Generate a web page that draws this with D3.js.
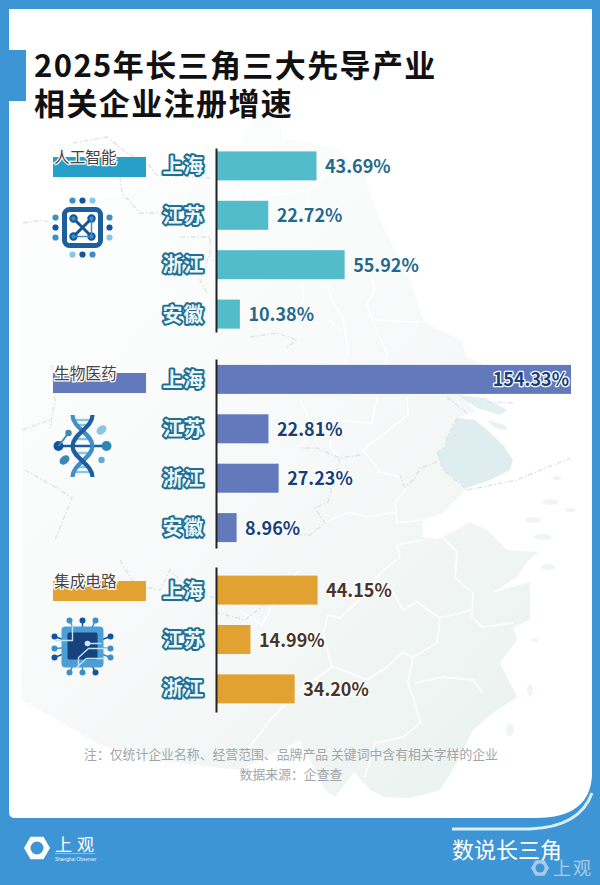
<!DOCTYPE html>
<html lang="zh"><head><meta charset="utf-8">
<style>html,body{margin:0;padding:0;background:#fff}svg{display:block}
text{font-family:"Noto Sans CJK SC","Noto Sans",sans-serif}</style>
<script src="https://cdn.jsdelivr.net/npm/d3@7"></script></head><body>
<svg id="c" width="600" height="885"></svg>
<script>
const titleLines=["2025年长三角三大先导产业","相关企业注册增速"];
const aiRegions=["上海","江苏","浙江","安徽"];
const aiValues=[43.69,22.72,55.92,10.38];
const bioRegions=["上海","江苏","浙江","安徽"];
const bioValues=[154.33,22.81,27.23,8.96];
const icRegions=["上海","江苏","浙江"];
const icValues=[44.15,14.99,34.20];
const groupNames=["人工智能","生物医药","集成电路"];
const noteLines=["注：仅统计企业名称、经营范围、品牌产品 关键词中含有相关字样的企业","数据来源：企查查"];

const svg=d3.select("#c");
const BLUE="#3e95d6";
svg.append("rect").attr("width",600).attr("height",885).attr("fill",BLUE);
// white panel
svg.append("path").attr("fill","#fff")
 .attr("d","M9,9H592V775Q590,818 536,818H15Q9,818 9,812Z");
svg.append("path").attr("fill","none").attr("stroke","#d8eef8").attr("stroke-width",3)
 .attr("d","M452,829H530Q580,827 592,793");
svg.append("rect").attr("x",9).attr("y",50).attr("width",17).attr("height",51).attr("fill",BLUE);

// ---- faint background map ----
const defs=svg.append("defs");
const g1=defs.append("linearGradient").attr("id","land").attr("x1",0).attr("x2",0.8).attr("y1",0).attr("y2",1);
g1.append("stop").attr("offset",0).attr("stop-color","#fdfdfd");
g1.append("stop").attr("offset",.45).attr("stop-color","#f9fbfb");
g1.append("stop").attr("offset",.72).attr("stop-color","#f3f7f6");
g1.append("stop").attr("offset",1).attr("stop-color","#ebf3f0");
const map=svg.append("g");
map.append("path").attr("fill","url(#land)")
 .attr("d","M253,120L280,120L283,140L303,141L340,150L363,173L380,220L395,250L410,280L420,310L423,322L440,330L462,340L466,356L482,364L497,372L480,392L462,395L475,412L457,418L447,437L445,448L437,452L443,470L467,488L443,513L422,520L423,537L437,539L443,537L470,522L487,530L507,550L538,552L527,562L517,577L492,593L530,582L530,620L513,627L517,640L500,663L517,697L493,713L473,730L457,763L440,790L410,798L385,797L370,790L354,772L335,797L325,790L300,740L240,770L150,760L100,745L22,700L22,220L60,222L100,200L140,190L170,170L205,150L240,145Z");
map.append("path").attr("fill","#deedef")
 .attr("d","M457,418L475,420L487,430L503,445L513,460L510,470L490,480L467,488L443,470L437,452L445,448L447,437Z");
map.append("path").attr("fill","#e3f0f2").attr("d","M457,395L485,398L507,410L500,415L477,408Z");
map.append("path").attr("fill","#e8f2f2").attr("d","M487,420L505,425L508,430L495,428Z");
// islands
[[533,520,8,3],[543,537,9,3],[548,567,7,3],[550,502,8,3],[557,478,4,2],[570,510,5,2],[520,595,4,2],[535,640,3,2],[530,690,3,6],[510,730,4,6]]
 .forEach(d=>map.append("ellipse").attr("cx",d[0]).attr("cy",d[1]).attr("rx",d[2]).attr("ry",d[3]).attr("fill","#eef5f5"));
const lines=[
 "M423,540L397,545L400,557L380,573L363,597L340,618L328,615L323,633L332,667",
 "M443,538L457,552L455,578L473,593L472,617L482,627L513,623",
 "M390,587L403,610L417,602L440,618L472,610",
 "M440,618L437,643L413,657L403,652L387,667L367,680L343,670L332,667",
 "M413,657L408,683L415,703L420,723L403,737L375,743L365,777",
 "M415,683L443,677L473,680L483,693",
 "M407,487L395,503L397,523L420,520",
 "M323,523L350,512L367,517L397,512",
 "M407,397L408,415L363,450L380,472L400,477",
 "M377,397L372,423L333,420L330,447L340,458",
 "M327,283L333,303L343,317L348,353L345,365",
 "M372,278L375,290L367,303L372,320L387,353L386,365",
 "M372,320L420,322",
 "M237,187L243,200L310,190L307,217",
 "M303,283L303,300L293,320",
 "M330,320L343,333",
 "M310,190L320,180L340,150",
 "M300,400L315,430L300,447",
 "M300,570L280,590L262,625L240,610",
 "M332,667L300,690L270,720L240,760"
];
map.selectAll("path.prov").data(lines).join("path").attr("class","prov").attr("d",d=>d)
 .attr("fill","none").attr("stroke","#fff").attr("stroke-width",1.6);
const borders=[
 "M457,418L447,437L445,448L437,452L443,470L465,488",
 "M437,462L420,468L415,478L405,487L400,475",
 "M360,455L340,458L317,448L300,448",
 "M340,458L328,502L315,508L325,523L310,535L300,535",
 "M467,490L517,480L570,458",
 "M447,397L467,413",
 "M487,402L513,403",
 "M23,223L43,220L60,227",
 "M120,177L122,193L140,213L157,213L173,220",
 "M73,143L107,137L127,153L147,163L157,175L210,178",
 "M180,237L210,237L210,253L200,280L207,293",
 "M250,337L277,333L297,340L287,347",
 "M52,365L55,400L50,428",
 "M22,430L50,420",
 "M25,470L60,490L72,498L55,540",
 "M120,560L135,585L160,590L170,570L190,590L215,598",
 "M215,612L245,620L270,600"
];
map.selectAll("path.bd").data(borders).join("path").attr("class","bd").attr("d",d=>d)
 .attr("fill","none").attr("stroke","#e0e4e6").attr("stroke-width",1.4).attr("stroke-dasharray","5 2 1.5 2");

// ---- title ----
svg.append("g").selectAll("text").data(titleLines).join("text")
 .attr("x",34).attr("y",(d,i)=>77+i*38)
 .attr("font-size",31).attr("font-weight",700).attr("letter-spacing",1.4).attr("fill","#111").text(d=>d);

// ---- charts ----
const x=d3.scaleLinear().domain([0,154.33]).range([216,571]);
const STEP=49.4,PI=0.413;
const groups=[
 {name:groupNames[0],regions:aiRegions,values:aiValues,color:"#52bcca",tag:"#26a0c8",val:"#1f6a8e",top:148,bottom:332,tagY:157},
 {name:groupNames[1],regions:bioRegions,values:bioValues,color:"#6279bc",tag:"#6279bc",val:"#173f7c",top:359,bottom:548,tagY:373},
 {name:groupNames[2],regions:icRegions,values:icValues,color:"#e2a232",tag:"#e2a232",val:"#47352b",top:567,bottom:712,tagY:581}
];
groups.forEach(g=>{
 const n=g.regions.length,R=g.bottom-g.top;
 const y=d3.scaleBand().domain(g.regions).range([g.top,g.bottom]).paddingInner(PI).paddingOuter((R/STEP-(n-PI))/2);
 const gg=svg.append("g");
 gg.selectAll("rect.bar").data(g.regions).join("rect").attr("class","bar")
  .attr("x",x(0)).attr("y",d=>y(d)).attr("height",y.bandwidth())
  .attr("width",(d,i)=>x(g.values[i])-x(0)).attr("fill",g.color);
 const ax=d3.axisLeft(y).tickSize(0).tickFormat("");
 gg.append("g").attr("transform","translate(216,0)").call(ax)
  .call(s=>s.select(".domain").attr("stroke","#222").attr("stroke-width",2));
 gg.selectAll("text.reg").data(g.regions).join("text").attr("class","reg")
  .attr("x",183.5).attr("y",d=>y(d)+y.bandwidth()/2+7.5)
  .attr("text-anchor","middle").attr("font-size",20).attr("font-weight",700).attr("letter-spacing",1)
  .attr("fill","#eaf6f8").attr("stroke","#1f6f94").attr("stroke-width",4).attr("stroke-linejoin","round").attr("paint-order","stroke").text(d=>d);
 gg.selectAll("text.val").data(g.regions).join("text").attr("class","val")
  .each(function(d,i){
    const v=g.values[i],inside=x(v)>500,s=d3.select(this);
    s.attr("x",inside?x(v)-2:x(v)+8.5).attr("text-anchor",inside?"end":"start")
     .attr("y",y(d)+y.bandwidth()/2+7).attr("font-size",18).attr("font-weight",700)
     .attr("fill",g.val).attr("stroke","#fff").attr("stroke-width",2.5).attr("stroke-linejoin","round").attr("paint-order","stroke")
     .text(v.toFixed(2)+"%");
  });
 gg.append("rect").attr("x",53).attr("y",g.tagY).attr("width",93).attr("height",20).attr("fill",g.tag);
 gg.append("text").attr("x",54).attr("y",g.tagY+6).attr("font-size",15.7).attr("fill","#4a4240")
  .attr("stroke","#fff").attr("stroke-width",2.5).attr("paint-order","stroke").text(g.name);
});

// ---- icons ----
function dot(p,cx,cy,r,f){p.append("circle").attr("cx",cx).attr("cy",cy).attr("r",r).attr("fill",f);}
const D="#12559a",M="#3f8ec8",L="#8cc4e6";
{ // AI chip
 const p=svg.append("g").attr("transform","translate(82.5,227.5)");
 p.append("rect").attr("x",-18).attr("y",-18).attr("width",36).attr("height",36).attr("rx",5)
  .attr("fill","#fff").attr("stroke","#1c5f9c").attr("stroke-width",5);
 [[-27,-10,M],[-27,0,D],[-27,10,M],[27,-10,M],[27,0,D],[27,10,L],[-10,-27,M],[0,-27,D],[10,-27,L],[-10,27,L],[0,27,D],[10,27,M]]
  .forEach(d=>dot(p,d[0],d[1],3.1,d[2]));
 [[-9,-9],[9,-9],[-9,9],[9,9]].forEach(d=>{
  p.append("line").attr("x1",0).attr("y1",0).attr("x2",d[0]).attr("y2",d[1]).attr("stroke",D).attr("stroke-width",3);
  p.append("circle").attr("cx",d[0]).attr("cy",d[1]).attr("r",3.2).attr("fill",M).attr("stroke",D).attr("stroke-width",2);
 });
 p.append("line").attr("x1",-7).attr("x2",7).attr("y1",9).attr("y2",9).attr("stroke",M).attr("stroke-width",1.5);
 p.append("line").attr("x1",9).attr("x2",9).attr("y1",-7).attr("y2",7).attr("stroke",M).attr("stroke-width",1.5);
}
{ // DNA
 const p=svg.append("g").attr("transform","translate(82.5,446)");
 p.append("path").attr("d","M-24,0H27").attr("stroke","#1c5f9c").attr("stroke-width",2.5);
 [[-26,8],[-21,6],[-7,7],[7,7],[21,6],[26,8]].forEach(d=>{
  p.append("line").attr("x1",-d[1]).attr("x2",d[1]).attr("y1",d[0]).attr("y2",d[0]).attr("stroke",L).attr("stroke-width",2.4);});
 p.append("path").attr("d","M-10,-31C-10,-18 10,-12 10,0C10,12 -10,18 -10,31").attr("fill","none").attr("stroke",M).attr("stroke-width",4.2);
 p.append("path").attr("d","M10,-31C10,-18 -10,-12 -10,0C-10,12 10,18 10,31").attr("fill","none").attr("stroke","#1c5f9c").attr("stroke-width",4.2);
 dot(p,-24,0,5,D);dot(p,24,0,5,"#2f86ae");dot(p,-14,-13,3.2,"#3c87b8");
 p.append("line").attr("x1",-24).attr("y1",0).attr("x2",-14).attr("y2",-13).attr("stroke","#3c87b8").attr("stroke-width",2);
 p.append("ellipse").attr("cx",19).attr("cy",-16).attr("rx",5.5).attr("ry",4).attr("transform","rotate(-40 19 -16)").attr("fill",L);
 p.append("ellipse").attr("cx",-18).attr("cy",14).attr("rx",5.5).attr("ry",4).attr("transform","rotate(-40 -18 14)").attr("fill","#3c87b8");
 dot(p,19,14,3.2,"#5aaed0");
}
{ // IC
 const p=svg.append("g").attr("transform","translate(82.5,646.5)");
 const pins=[[-13,-26,M],[0,-26,D],[13,-26,M],[-13,26,M],[0,26,M],[13,26,D],[-28,-10,D],[-28,2,M],[-28,11,D],[28,-10,D],[28,2,M],[28,11,M]];
 pins.forEach(d=>{p.append("line").attr("x1",d[0]*.5).attr("y1",d[1]*.5).attr("x2",d[0]).attr("y2",d[1]).attr("stroke",d[2]).attr("stroke-width",1.5);dot(p,d[0],d[1],3,d[2]);});
 p.append("rect").attr("x",-21).attr("y",-20).attr("width",42).attr("height",41).attr("rx",4).attr("fill","#4b9fd4");
 p.append("rect").attr("x",-15).attr("y",-14).attr("width",30).attr("height",27).attr("rx",2).attr("fill","#17427f");
 p.append("path").attr("d","M-27,-6H-10V-22M22,12H4L-6,21M25,2H6L-4,11V21M5,-3H19").attr("fill","none").attr("stroke","#bfe4f6").attr("stroke-width",1.4);
 dot(p,5,-3,2.8,"#cfeaf8");
}

// ---- notes ----
svg.append("g").selectAll("text").data(noteLines).join("text")
 .attr("x",291).attr("y",(d,i)=>759+i*20).attr("text-anchor","middle")
 .attr("font-size",12.85).attr("fill","#a2a6ab").text(d=>d);

// ---- footer ----
const lg=svg.append("g").attr("transform","translate(37,848)");
lg.append("path").attr("d",d3.line()(d3.range(6).map(i=>[13*Math.cos(i*Math.PI/3),13*Math.sin(i*Math.PI/3)]))+"Z").attr("fill","#fff");
lg.append("circle").attr("r",6.5).attr("fill",BLUE);
svg.append("text").attr("x",55).attr("y",851).attr("font-size",17).attr("letter-spacing",5).attr("fill","#fff").text("上观");
svg.append("text").attr("x",55).attr("y",861).attr("font-size",4.8).attr("style","font-family:'Liberation Sans'").attr("fill","#e8f3fb").text("Shanghai Observer");
svg.append("line").attr("x1",55).attr("x2",95).attr("y1",853.5).attr("y2",853.5).attr("stroke","#cfe6f6").attr("stroke-width",.5);
svg.append("text").attr("x",452).attr("y",858).attr("font-size",22).attr("fill","#fff").text("数说长三角");
const wm=svg.append("g").attr("transform","translate(540,868)").attr("opacity",.62);
wm.append("path").attr("d",d3.line()(d3.range(6).map(i=>[9*Math.cos(i*Math.PI/3),9*Math.sin(i*Math.PI/3)]))+"Z").attr("fill","#e8eef2");
wm.append("circle").attr("r",4.5).attr("fill",BLUE);
wm.append("text").attr("x",13).attr("y",7).attr("font-size",18).attr("letter-spacing",2).attr("fill","#e8eef2").text("上观");
</script></body></html>
